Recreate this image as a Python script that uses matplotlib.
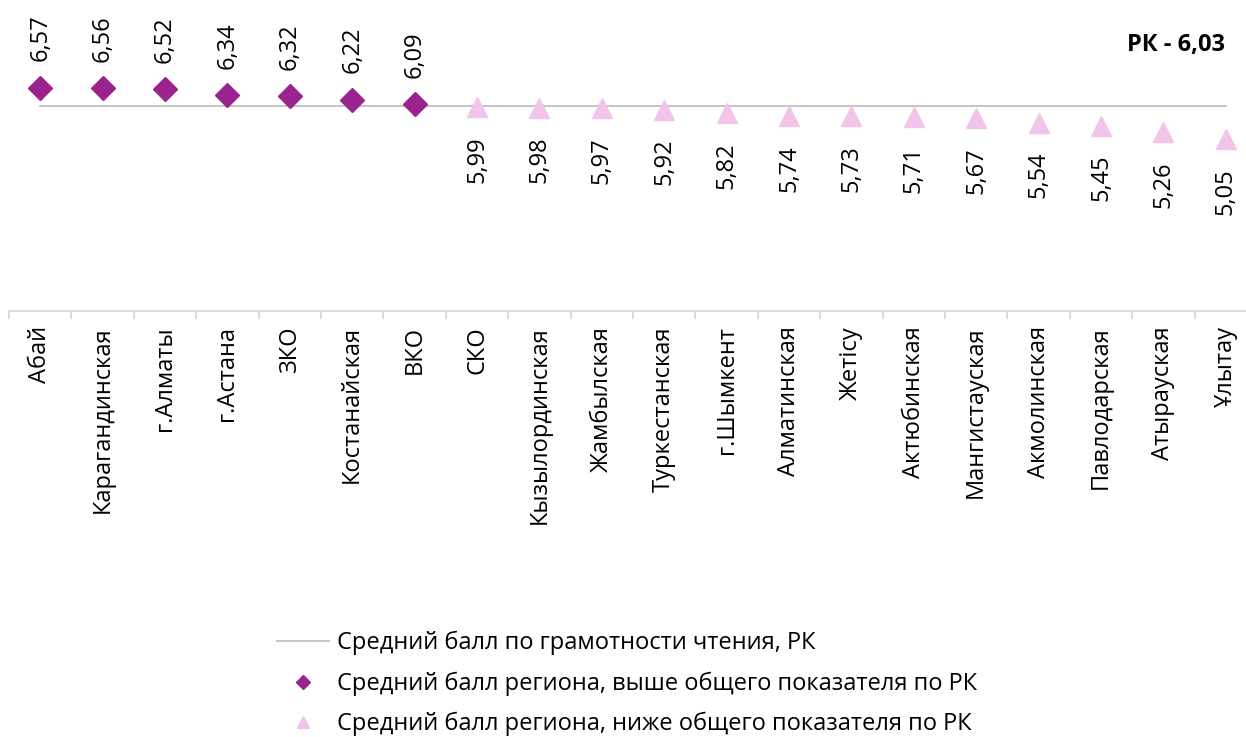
import matplotlib
matplotlib.use("Agg")
import matplotlib.pyplot as plt
from matplotlib.lines import Line2D

plt.rcParams['font.family'] = ['Open Sans', 'DejaVu Sans']

regions = ["Абай", "Карагандинская", "г.Алматы", "г.Астана", "ЗКО", "Костанайская",
           "ВКО", "СКО", "Кызылординская", "Жамбылская", "Туркестанская", "г.Шымкент",
           "Алматинская", "Жетісу", "Актюбинская", "Мангистауская", "Акмолинская",
           "Павлодарская", "Атырауская", "Ұлытау"]
scores = [6.57, 6.56, 6.52, 6.34, 6.32, 6.22, 6.09, 5.99, 5.98, 5.97, 5.92, 5.82,
          5.74, 5.73, 5.71, 5.67, 5.54, 5.45, 5.26, 5.05]
rk_mean = 6.03

purple = "#9B2390"
pink = "#F2C4EA"
fs = 17

fig = plt.figure(figsize=(12.46, 7.37), dpi=100)
ax = fig.add_axes([9 / 1246, 1 - 311 / 737, 1248 / 1246, 306 / 737])

x = list(range(len(regions)))
ax.plot([x[0], x[-1]], [rk_mean, rk_mean], color="#BFBFBF", lw=1.3, zorder=1)

# split regions by whether they beat the national mean
up_x = [i for i in x if scores[i] > rk_mean]
up_y = [scores[i] for i in up_x]
dn_x = [i for i in x if scores[i] <= rk_mean]
dn_y = [scores[i] for i in dn_x]

ax.plot(up_x, up_y, 'D', color=purple, ms=12, ls='none', zorder=3)
ax.plot(dn_x, dn_y, '^', color=pink, ms=14.5, ls='none', zorder=3)

for i in up_x:
    ax.annotate(f"{scores[i]:.2f}".replace('.', ','), (i, scores[i]), xytext=(0, 19),
                textcoords='offset points', rotation=90, ha='center', va='bottom', fontsize=fs)
for i in dn_x:
    ax.annotate(f"{scores[i]:.2f}".replace('.', ','), (i, scores[i]), xytext=(0, -21),
                textcoords='offset points', rotation=90, ha='center', va='top', fontsize=fs)

ax.annotate("РК - 6,03", xy=(1225 / 1246, 1 - 45 / 737), xycoords='figure fraction',
            ha='right', va='center', fontsize=fs, fontweight='bold')

ax.set_xlim(-0.5, len(regions) - 0.5)
ax.set_ylim(0, 9)
ax.set_xticks([i - 0.5 for i in range(len(regions) + 1)])
ax.set_xticklabels([])
ax.set_xticks(x, minor=True)
ax.set_xticklabels(regions, minor=True, rotation=90, fontsize=fs, va='top', ha='center')
ax.tick_params(axis='x', which='major', length=6, color="#D9D9D9", width=1.3)
ax.tick_params(axis='x', which='minor', length=0, pad=11)
ax.set_yticks([])
for s in ['top', 'right', 'left']:
    ax.spines[s].set_visible(False)
ax.spines['bottom'].set_color("#D9D9D9")
ax.spines['bottom'].set_linewidth(1.3)

handles = [Line2D([], [], color="#BFBFBF", lw=1.3),
           Line2D([], [], marker='D', color=purple, ms=7, ls='none'),
           Line2D([], [], marker='^', color=pink, ms=9, ls='none')]
labels = ["Средний балл по грамотности чтения, РК",
          "Средний балл региона, выше общего показателя по РК",
          "Средний балл региона, ниже общего показателя по РК"]
fig.legend(handles, labels, loc='upper left', bbox_to_anchor=(277 / 1246, 1 - 631 / 737),
           frameon=False, fontsize=fs, handlelength=2.2, handletextpad=0.35,
           labelspacing=0.68, borderpad=0, borderaxespad=0)

fig.savefig("out.png", dpi=100)
